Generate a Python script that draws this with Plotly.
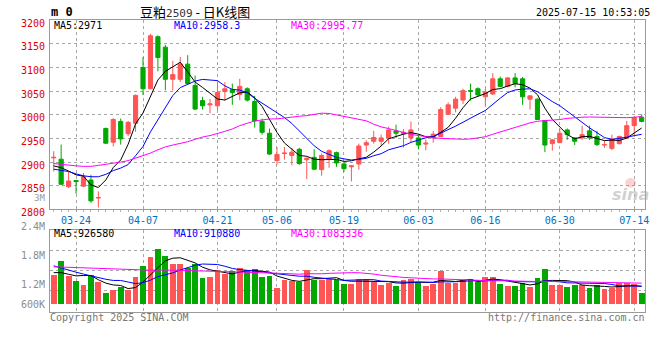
import plotly.graph_objects as go

# ---------------- data ----------------
dates = ["03-19", "03-20", "03-21", "03-24", "03-25", "03-26", "03-27", "03-28", "03-31",
         "04-01", "04-02", "04-03", "04-07", "04-08", "04-09", "04-10", "04-11", "04-14",
         "04-15", "04-16", "04-17", "04-18", "04-21", "04-22", "04-23", "04-24", "04-25",
         "04-28", "04-29", "04-30", "05-06", "05-07", "05-08", "05-09", "05-12", "05-13",
         "05-14", "05-15", "05-16", "05-19", "05-20", "05-21", "05-22", "05-23", "05-26",
         "05-27", "05-28", "05-29", "05-30", "06-03", "06-04", "06-05", "06-06", "06-09",
         "06-10", "06-11", "06-12", "06-13", "06-16", "06-17", "06-18", "06-19", "06-20",
         "06-23", "06-24", "06-25", "06-26", "06-27", "06-30", "07-01", "07-02", "07-03",
         "07-04", "07-07", "07-08", "07-09", "07-10", "07-11", "07-14", "07-15"]

opens = [2909, 2906, 2848, 2861, 2849, 2862, 2824, 2971, 2942, 2986,
         2960, 2982, 3100, 3055, 3165, 3143, 3075, 3075, 3107, 3062,
         3030, 3021, 3019, 3049, 3053, 3043, 3055, 3028, 2986, 2961,
         2903, 2918, 2914, 2927, 2905, 2910, 2884, 2906, 2920, 2896,
         2890, 2896, 2936, 2944, 2944, 2951, 2966, 2960, 2951, 2951,
         2938, 2951, 2954, 3001, 3014, 3031, 3051, 3055, 3038, 3044,
         3076, 3060, 3078, 3076, 3033, 3033, 2988, 2939, 2941, 2968,
         2951, 2951, 2966, 2954, 2936, 2929, 2939, 2951, 2977, 2995]
highs = [2923, 2937, 2879, 2862, 2877, 2873, 2838, 2973, 2993, 2992,
         2987, 3043, 3122, 3171, 3168, 3148, 3114, 3122, 3126, 3083,
         3038, 3033, 3069, 3069, 3066, 3076, 3058, 3040, 2992, 2971,
         2932, 2932, 2930, 2930, 2910, 2927, 2918, 2927, 2922, 2901,
         2894, 2939, 2946, 2966, 2958, 2975, 2979, 2970, 2986, 2958,
         2948, 2966, 3016, 3026, 3038, 3055, 3066, 3058, 3055, 3088,
         3081, 3080, 3088, 3080, 3041, 3035, 2989, 2949, 2970, 2971,
         2953, 2977, 2977, 2966, 2946, 2958, 2956, 2987, 2996, 3001]
lows = [2880, 2852, 2845, 2833, 2847, 2814, 2804, 2938, 2933, 2937,
        2955, 2964, 3042, 3054, 3092, 3052, 3051, 3069, 3064, 3010,
        3011, 3003, 3010, 3030, 3021, 3031, 3028, 2973, 2958, 2915,
        2894, 2905, 2893, 2894, 2864, 2883, 2871, 2888, 2890, 2879,
        2859, 2884, 2922, 2939, 2934, 2939, 2951, 2931, 2942, 2927,
        2925, 2941, 2953, 3000, 3005, 3023, 3030, 3040, 3019, 3042,
        3058, 3058, 3058, 3021, 3011, 2989, 2921, 2924, 2941, 2947,
        2936, 2947, 2947, 2934, 2930, 2925, 2937, 2949, 2958, 2984]
closes = [2910, 2853, 2860, 2859, 2869, 2818, 2825, 2940, 2990, 2949,
          2984, 3041, 3055, 3167, 3121, 3075, 3085, 3107, 3066, 3012,
          3019, 3023, 3047, 3055, 3047, 3060, 3031, 2987, 2963, 2917,
          2916, 2919, 2921, 2897, 2908, 2885, 2914, 2924, 2898, 2886,
          2892, 2934, 2941, 2952, 2951, 2968, 2961, 2963, 2968, 2936,
          2940, 2959, 3011, 3021, 3033, 3051, 3050, 3042, 3048, 3076,
          3060, 3078, 3066, 3038, 3040, 2990, 2936, 2947, 2961, 2958,
          2944, 2958, 2951, 2937, 2937, 2949, 2954, 2977, 2994, 2986]
volumes = [1518000, 2260000, 1467000, 1181000, 1012000, 1518000, 1147000, 590000, 708000, 877000,
           708000, 1417000, 2007000, 2463000, 2867000, 2496000, 2108000, 2108000, 1889000, 2108000,
           1383000, 1417000, 1754000, 1569000, 1720000, 1872000, 1754000, 1822000, 1417000, 1467000,
           843000, 1265000, 1181000, 1147000, 1754000, 1265000, 1265000, 1316000, 1265000, 1046000,
           1046000, 1299000, 1299000, 1147000, 1012000, 1079000, 961000, 1248000, 1299000, 1147000,
           961000, 1046000, 1704000, 1079000, 1079000, 1256000, 1299000, 1130000, 1417000, 1417000,
           1063000, 961000, 961000, 1079000, 911000, 1349000, 1805000, 1012000, 1012000, 911000,
           1012000, 1012000, 843000, 978000, 759000, 843000, 1079000, 1079000, 1046000, 590000]

# moving-average values before the window is full
ma5_head = [2892, 2888, 2881, 2873]
ma10_head = [2885, 2883, 2880, 2875, 2871, 2869, 2869, 2874, 2882]
ma30_head = [2897, 2895, 2893, 2892, 2891, 2891, 2893, 2895, 2897, 2900,
             2903, 2908, 2914, 2919, 2926, 2932, 2936, 2939, 2943, 2948,
             2953, 2956, 2960, 2965, 2970, 2977, 2982, 2987, 2989]
vol_ma5_head = [1636000, 1636000, 1552000, 1467000]
vol_ma10_head = [1990000, 1870000, 1760000, 1660000, 1560000, 1460000, 1370000, 1290000, 1230000]
vol_ma30_head = [1940000, 1925000, 1905000, 1885000, 1865000, 1850000, 1835000, 1820000, 1805000, 1790000,
                 1780000, 1770000, 1765000, 1765000, 1770000, 1775000, 1770000, 1760000, 1745000, 1730000,
                 1715000, 1700000, 1690000, 1680000, 1670000, 1660000, 1650000, 1640000, 1630000]

tick_labels = ["03-24", "04-07", "04-21", "05-06", "05-19", "06-03", "06-16", "06-30", "07-14"]
price_ticks = [2800, 2850, 2900, 2950, 3000, 3050, 3100, 3150, 3200]
vol_tick_labels = ["2.4M", "1.8M", "1.2M", "600K"]
price_legend = [("MA5", "2971"), ("MA10", "2958.3"), ("MA30", "2995.77")]
vol_legend = [("MA5", "926580"), ("MA10", "910880"), ("MA30", "1083336")]
title_name = "豆粕"
title_code = "2509"
title_suffix = " - 日K线图"
timestamp = "2025-07-15 10:53:05"

# ---------------- helpers ----------------
W, H = 660, 360
MONO = "DejaVu Sans Mono"
RED = "#ff5555"
GREEN = "#00a800"
MA_COLORS = ["#000000", "#0000ff", "#ff00ff"]


def moving_average(values, n, head):
    out = []
    for i in range(len(values)):
        if i < n - 1:
            out.append(head[i])
        else:
            out.append(sum(values[i - n + 1:i + 1]) / n)
    return out


def px_x(x):
    return x / W


def px_y(y):
    return 1 - y / H


idx = list(range(len(dates)))
ma_price = [moving_average(closes, 5, ma5_head),
            moving_average(closes, 10, ma10_head),
            moving_average(closes, 30, ma30_head)]
ma_vol = [moving_average(volumes, 5, vol_ma5_head),
          moving_average(volumes, 10, vol_ma10_head),
          moving_average(volumes, 30, vol_ma30_head)]
vol_colors = [RED if c >= o else GREEN for o, c in zip(opens, closes)]

# panel geometry (pixels)
PL, PR = 50.3, 649.3
MAIN_T, MAIN_B = 18.7, 213.3
VOL_T, VOL_B = 234.0, 318.7
VOL_BASE = 310.7          # pixel row of zero volume
VOL_PER_PX = 50600        # volume units per pixel
vol_range = [-(VOL_B - VOL_BASE) * VOL_PER_PX, (VOL_BASE - VOL_T) * VOL_PER_PX]
vol_grid = [(VOL_BASE - y) * VOL_PER_PX for y in (255.3, 275.9, 296.5)]

fig = go.Figure()
fig.add_trace(go.Candlestick(
    x=idx, open=opens, high=highs, low=lows, close=closes,
    increasing=dict(line=dict(color=RED, width=1), fillcolor=RED),
    decreasing=dict(line=dict(color=GREEN, width=1), fillcolor=GREEN),
    whiskerwidth=0, hoverinfo="skip", xaxis="x", yaxis="y", showlegend=False))
for ys, col in zip(ma_price, MA_COLORS):
    fig.add_trace(go.Scatter(x=idx, y=ys, mode="lines", line=dict(color=col, width=1),
                             hoverinfo="skip", xaxis="x", yaxis="y", showlegend=False))
fig.add_trace(go.Bar(x=idx, y=volumes, marker=dict(color=vol_colors, line=dict(width=0)),
                     width=0.78, hoverinfo="skip", xaxis="x2", yaxis="y2", showlegend=False))
for ys, col in zip(ma_vol, MA_COLORS):
    fig.add_trace(go.Scatter(x=idx, y=ys, mode="lines", line=dict(color=col, width=1),
                             hoverinfo="skip", xaxis="x2", yaxis="y2", showlegend=False))

tickvals = [dates.index(d) for d in tick_labels]
grid = dict(showgrid=True, gridcolor="#a8a8a8", gridwidth=1, griddash="dot", zeroline=False)
frame = dict(showline=True, linecolor="#9a9a9a", linewidth=1, mirror=True)

fig.update_layout(
    width=W, height=H, margin=dict(l=0, r=0, t=0, b=0),
    paper_bgcolor="white", plot_bgcolor="white", boxgap=0.2, bargap=0,
    xaxis=dict(domain=[px_x(PL), px_x(PR)], range=[-0.5, len(dates) - 0.5], anchor="y",
               tickvals=tickvals, ticktext=tick_labels,
               tickfont=dict(family=MONO, size=10, color="#0070c0"),
               ticks="outside", ticklen=2, tickcolor="#9a9a9a",
               minor=dict(dtick=1, tick0=0, ticks="outside", ticklen=2, tickcolor="#b0b0b0", showgrid=False),
               rangeslider=dict(visible=False), **grid, **frame),
    yaxis=dict(domain=[px_y(MAIN_B), px_y(MAIN_T)], range=[price_ticks[0], price_ticks[-1]], anchor="x",
               tickvals=price_ticks, ticktext=[str(v) for v in price_ticks],
               tickfont=dict(family=MONO, size=10, color="#e00000"),
               ticks="", ticklabelshift=3, ticklabelstandoff=2, **grid, **frame),
    xaxis2=dict(domain=[px_x(PL), px_x(PR)], range=[-0.5, len(dates) - 0.5], anchor="y2",
                tickvals=tickvals, showticklabels=False, ticks="", **grid, **frame),
    yaxis2=dict(domain=[px_y(VOL_B), px_y(VOL_T)], range=vol_range, anchor="x2",
                tickvals=vol_grid, showticklabels=False, ticks="", **grid, **frame),
)

ann = []


def text(x, y, s, color="#000", size=10, family=MONO, anchor="left"):
    ann.append(dict(x=px_x(x), y=px_y(y), xref="paper", yref="paper", text=s, showarrow=False,
                    xanchor=anchor, yanchor="middle", borderpad=0,
                    font=dict(family=family, size=size, color=color)))


text(50, 10, "<b>m 0</b>", size=12)
text(196, 9.5, title_name + "<span style='font-family:DejaVu Sans Mono;font-size:11px;color:#333'>"
     + title_code + "</span>" + title_suffix, size=13, family="Noto Sans CJK SC", anchor="center")
text(655, 11, timestamp, anchor="right")

legend_x = [53, 174, 292]
for (name, val), col, lx in zip(price_legend, MA_COLORS, legend_x):
    text(lx, 24.5, f"{name}:{val}", color=col)
for (name, val), col, lx in zip(vol_legend, MA_COLORS, legend_x):
    text(lx, 238.5, f"{name}:{val}", color=col)

for lab, y in zip(vol_tick_labels, (230.7, 260.7, 290.7, 310.7)):
    text(46, y, lab, color="#8c8c8c", anchor="right")
text(46, 202, "3M", color="#9a9a9a", size=9, anchor="right")
text(49, 324, "Copyright 2025 SINA.COM", color="#777777")
text(650, 324, "http://finance.sina.com.cn", color="#777777", anchor="right")
text(634, 198, "<b><i>sina</i></b>", color="rgba(170,170,170,0.55)", size=16, family="DejaVu Sans", anchor="center")

fig.add_shape(type="circle", xref="paper", yref="paper",
              x0=px_x(629), x1=px_x(640), y0=px_y(191), y1=px_y(181),
              fillcolor="rgba(240,110,110,0.3)", line=dict(width=0), layer="above")

fig.update_layout(annotations=ann)
fig.write_html("out.html", config={"displayModeBar": False, "staticPlot": True},
               post_script="document.body.style.margin='0px';document.body.style.overflow='hidden';")
